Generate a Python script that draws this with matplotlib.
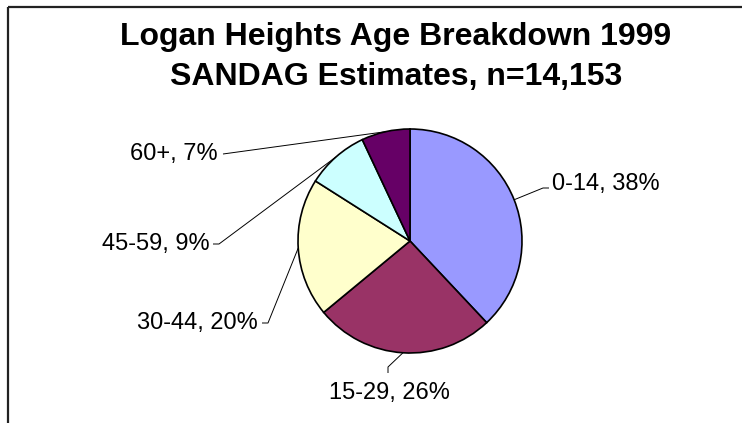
import matplotlib
matplotlib.use("Agg")
import matplotlib.pyplot as plt
import numpy as np

plt.rcParams['font.family'] = ['Liberation Sans', 'DejaVu Sans']

categories = ["0-14", "15-29", "30-44", "45-59", "60+"]
values = [38, 26, 20, 9, 7]
colors = ["#9999FF", "#993366", "#FFFFCC", "#CCFFFF", "#660066"]
title = "Logan Heights Age Breakdown 1999\nSANDAG Estimates, n=14,153"

W, H = 742, 423
fig = plt.figure(figsize=(W / 100, H / 100), dpi=100)
ax = fig.add_axes([0, 0, 1, 1])
ax.set_xlim(0, W)
ax.set_ylim(0, H)
ax.set_aspect('equal')
ax.axis('off')

cx, cy, r = 410, H - 241, 112
wedges, _ = ax.pie(values, colors=colors, startangle=90, counterclock=False,
                   center=(cx, cy), radius=r, frame=True,
                   wedgeprops=dict(edgecolor='black', linewidth=1.2))
ax.set_xlim(0, W)
ax.set_ylim(0, H)
ax.axis('off')

# label layout: text position (pixels from top), alignment, leader elbow and end
layout = {
    "0-14":  dict(tx=552, ty=184, ha='left', elbow=(543, 188), end=(549, 188)),
    "15-29": dict(tx=389, ty=393, ha='center', elbow=(388, 367), end=(388, 373)),
    "30-44": dict(tx=258, ty=323, ha='right', elbow=(268, 323), end=(262, 323)),
    "45-59": dict(tx=210, ty=244, ha='right', elbow=(219, 244), end=(213, 244)),
    "60+":   dict(tx=218, ty=154, ha='right', elbow=(223, 154), end=(223, 154)),
}

for w, cat, v in zip(wedges, categories, values):
    mid = np.deg2rad((w.theta1 + w.theta2) / 2)
    ax_pt = (cx + r * np.cos(mid), cy + r * np.sin(mid))
    L = layout[cat]
    ex, ey = L['elbow']
    nx, ny = L['end']
    ax.plot([ax_pt[0], ex, nx], [ax_pt[1], H - ey, H - ny], color='black',
            linewidth=0.7, solid_capstyle='butt', zorder=1)
    ax.text(L['tx'], H - L['ty'], f"{cat}, {v}%", ha=L['ha'], va='center',
            fontsize=17, color='black')

ax.text(396, H - 57, title, ha='center', va='center', fontsize=23,
        fontweight='bold', linespacing=1.42)

# chart area border (left and top visible)
ax.plot([8, 8], [-5, H - 7], color='#222222', linewidth=1.6, solid_capstyle='butt', clip_on=False)
ax.plot([8, W + 5], [H - 7, H - 7], color='#222222', linewidth=1.6, solid_capstyle='butt', clip_on=False)

fig.savefig("out.png", dpi=100)
